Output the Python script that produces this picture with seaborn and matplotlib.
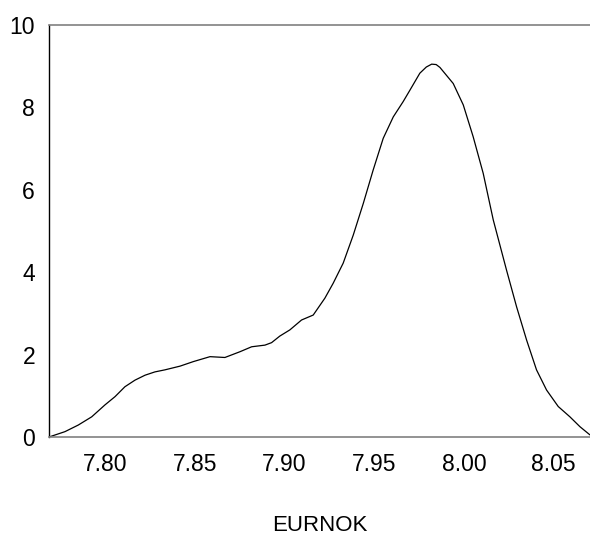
import numpy as np
import pandas as pd
import matplotlib
matplotlib.use("Agg")
import matplotlib.pyplot as plt
import seaborn as sns

# Kernel density of EURNOK
eurnok = [7.7688, 7.7777, 7.7851, 7.7926, 7.8000, 7.8056, 7.8111, 7.8167,
          7.8223, 7.8278, 7.8334, 7.8418, 7.8492, 7.8585, 7.8668, 7.8752,
          7.8817, 7.8891, 7.8928, 7.8974, 7.9030, 7.9095, 7.9160, 7.9225,
          7.9271, 7.9327, 7.9383, 7.9439, 7.9494, 7.9550, 7.9606, 7.9661,
          7.9699, 7.9754, 7.9790, 7.9820, 7.9845, 7.9866, 7.9940, 7.9996,
          8.0051, 8.0107, 8.0163, 8.0237, 8.0293, 8.0349, 8.0404, 8.0460,
          8.0525, 8.0590, 8.0646, 8.0702]
density = [0.00, 0.13, 0.29, 0.49, 0.78, 0.98, 1.22, 1.38,
           1.50, 1.58, 1.63, 1.72, 1.83, 1.95, 1.93, 2.07,
           2.19, 2.23, 2.29, 2.45, 2.60, 2.84, 2.96, 3.37,
           3.73, 4.22, 4.90, 5.67, 6.48, 7.25, 7.77, 8.14,
           8.42, 8.83, 8.98, 9.05, 9.04, 8.97, 8.58, 8.06,
           7.29, 6.40, 5.27, 4.05, 3.16, 2.35, 1.63, 1.14,
           0.74, 0.49, 0.25, 0.05]
x_ticks = [7.80, 7.85, 7.90, 7.95, 8.00, 8.05]
y_ticks = [0, 2, 4, 6, 8, 10]

df = pd.DataFrame({"EURNOK": eurnok, "Density": density})

sns.set_style("white")
plt.rcParams["font.family"] = ["Liberation Sans", "DejaVu Sans"]

fig = plt.figure(figsize=(5.9, 5.35), dpi=100)
ax = fig.add_axes([49 / 590, 98 / 535, 541 / 590, 412 / 535])

sns.lineplot(data=df, x="EURNOK", y="Density", color="black", linewidth=0.9, ax=ax)

ax.set_xlim(7.7688, 8.0702)
ax.set_ylim(0, 10)
ax.set_xticks(x_ticks)
ax.set_xticklabels([f"{t:.2f}" for t in x_ticks])
ax.set_yticks(y_ticks)
ax.set_yticklabels([str(t) for t in y_ticks])

ax.tick_params(axis="both", which="major", direction="out", length=6.5,
               width=1, color="#808080", labelsize=16.5, labelcolor="black")
ax.tick_params(axis="x", pad=5)
ax.tick_params(axis="y", pad=3.5)

ax.spines["left"].set_color("black")
ax.spines["left"].set_linewidth(1)
ax.spines["bottom"].set_color("#808080")
ax.spines["top"].set_color("#808080")
ax.spines["bottom"].set_linewidth(1.2)
ax.spines["top"].set_linewidth(1.2)
ax.spines["right"].set_visible(False)

ax.set_ylabel("")
ax.set_xlabel("EURNOK", fontsize=16, labelpad=28, color="black")

fig.savefig("out.png", dpi=100)
